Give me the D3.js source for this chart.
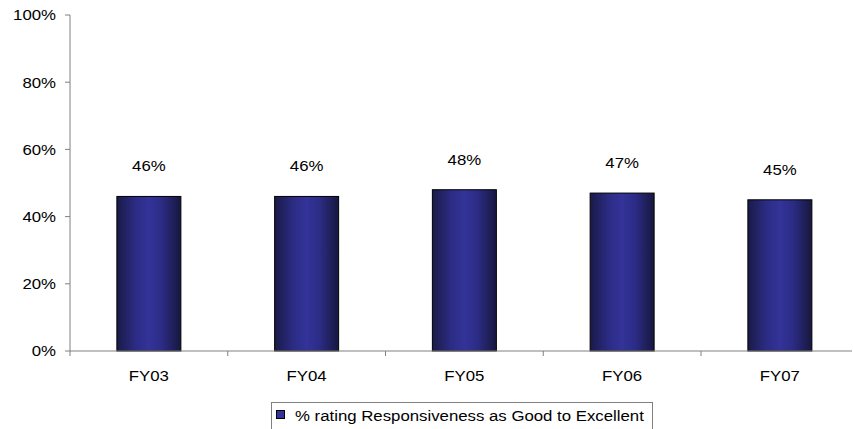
<!DOCTYPE html>
<html><head><meta charset="utf-8">
<script src="https://cdn.jsdelivr.net/npm/d3@7"></script>
<style>body{margin:0;background:#fff;}svg{display:block;font-family:"Liberation Sans",Arial,sans-serif;}</style>
</head><body>
<svg id="c" width="853" height="429"></svg>
<script>
const categories = ["FY03","FY04","FY05","FY06","FY07"];
const values = [46,46,48,47,45];
const yTicks = [0,20,40,60,80,100];
const seriesName = "% rating Responsiveness as Good to Excellent";

(function(){
const svg = d3.select("#c");
const pLeft = 70, pRight = 858.75, pTop = 15, pBottom = 351;
const sx = 1.12;
const x = d3.scaleBand().domain(categories).range([pLeft, pRight]).paddingInner(0).paddingOuter(0);
const y = d3.scaleLinear().domain([0,100]).range([pBottom, pTop]);
const tr = (a,b)=>`translate(${a},${b}) scale(${sx},1)`;

const defs = svg.append("defs");
const g = defs.append("linearGradient").attr("id","bg").attr("x1","0").attr("x2","1").attr("y1","0").attr("y2","0");
[[0,"#1a1a48"],[0.3,"#2c2c86"],[0.5,"#333399"],[0.7,"#2c2c86"],[1,"#17173f"]].forEach(([o,c])=>g.append("stop").attr("offset",o).attr("stop-color",c));

const bw = 64;
svg.selectAll("rect.bar").data(values).join("rect").attr("class","bar")
  .attr("x",(d,i)=>x(categories[i])+x.bandwidth()/2-bw/2)
  .attr("y",d=>y(d)).attr("width",bw).attr("height",d=>pBottom-y(d))
  .attr("fill","url(#bg)").attr("stroke","#000").attr("stroke-width",1);

svg.selectAll("text.val").data(values).join("text").attr("class","val")
  .attr("transform",(d,i)=>tr(x(categories[i])+x.bandwidth()/2, y(d)-25))
  .attr("text-anchor","middle").attr("font-size",15).attr("fill","#000")
  .text(d=>d+"%");

const ya = svg.append("g");
ya.append("line").attr("x1",pLeft).attr("x2",pLeft).attr("y1",pTop).attr("y2",pBottom).attr("stroke","#808080");
yTicks.forEach(t=>{
  ya.append("line").attr("x1",pLeft-5).attr("x2",pLeft).attr("y1",y(t)).attr("y2",y(t)).attr("stroke","#808080");
  ya.append("text").attr("transform",tr(56,y(t))).attr("dy","0.36em").attr("text-anchor","end").attr("font-size",15).text(t+"%");
});
const xa = svg.append("g");
xa.append("line").attr("x1",pLeft).attr("x2",852).attr("y1",pBottom).attr("y2",pBottom).attr("stroke","#808080");
categories.forEach((c,i)=>{
  const xt = x(c);
  xa.append("line").attr("x1",xt).attr("x2",xt).attr("y1",pBottom).attr("y2",pBottom+5).attr("stroke","#808080");
  xa.append("text").attr("transform",tr(xt+x.bandwidth()/2,381)).attr("text-anchor","middle").attr("font-size",15).text(c);
});

const lg = svg.append("g");
lg.append("rect").attr("x",271.5).attr("y",402.5).attr("width",381).attr("height",40).attr("fill","none").attr("stroke","#808080");
lg.append("rect").attr("x",276.5).attr("y",410.5).attr("width",8).attr("height",8).attr("fill","#333399").attr("stroke","#000");
lg.append("text").attr("transform",tr(295,420.5)).attr("font-size",15).text(seriesName);
})();
</script>
</body></html>
